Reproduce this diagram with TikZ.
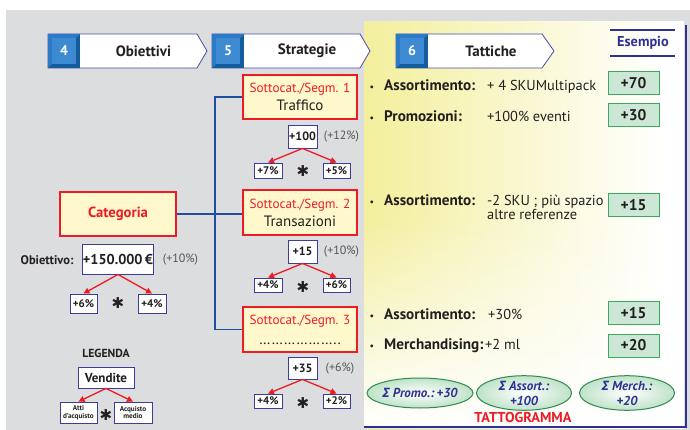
\documentclass[tikz,border=0pt]{standalone}
\usepackage{fontspec}
\setmainfont{PT Sans}
\newfontfamily\sigfont{Open Sans}
\newfontfamily\symfont{DejaVu Sans}
\usetikzlibrary{arrows.meta,fadings,shapes.geometric}

\definecolor{bggray}{HTML}{DCDDDE}
\definecolor{panyel}{HTML}{EAE43A}
\definecolor{panyel2}{HTML}{F2EE96}
\definecolor{segred}{HTML}{ED1C24}
\definecolor{creamy}{HTML}{FFF8CC}
\definecolor{boxblue}{HTML}{3D3D99}
\definecolor{ink}{HTML}{231F20}
\definecolor{pctgray}{HTML}{555555}
\definecolor{linkblue}{HTML}{1F4FA0}
\definecolor{grnline}{HTML}{3BAA5F}
\definecolor{grnfill}{HTML}{CCE7D5}
\definecolor{ellline}{HTML}{2E8B4E}
\definecolor{ellfill}{HTML}{BFE2C8}
\definecolor{sumblue}{HTML}{2E3192}
\definecolor{bevdark}{HTML}{135C9E}
\definecolor{bevmid}{HTML}{2D7BC6}
\definecolor{bevin}{HTML}{3E8AD2}
\definecolor{hdrline}{HTML}{4A4AA6}

\pgfdeclarehorizontalshading{panelshade}{100bp}{color(0bp)=(panyel); color(22bp)=(panyel2); color(72bp)=(white); color(100bp)=(white)}

\newcommand\fs[2]{\fontsize{#1}{#2}\selectfont}

% step tab of the header: #1 left x, #2 body end, #3 tip x, #4 number, #5 title, #6 node name
\newcommand\hdrtab[6]{%
  \draw[hdrline, line width=0.8pt, fill=white] (#1,34) -- (#2,34) -- (#3,51) -- (#2,68) -- (#1,68) -- cycle;
  \fill[bevdark] (#1,34) rectangle ({#1+32},68);
  \fill[bevmid] (#1,34) -- ({#1+32},34) -- ({#1+28},38) -- ({#1+4},38) -- ({#1+4},64) -- (#1,68) -- cycle;
  \fill[bevin] ({#1+4},38) rectangle ({#1+28},64);
  \node[hdrnum] (#6n) at ({#1+16},50.5) {#4};
  \node[hdrtxt] (#6) at ({(#1+32+#3)/2},51) {#5};
}

\tikzset{
  hdrnum/.style={text=white, font=\fs{14}{16}\bfseries, inner sep=0pt},
  hdrtxt/.style={text=ink, font=\fs{15}{17}\bfseries, inner sep=0pt},
  numbox/.style={draw=boxblue, line width=0.9pt, fill=white, inner sep=0pt, text=ink, font=\fs{12}{14}\bfseries},
  pctbox/.style={numbox, minimum width=28pt, minimum height=15pt, font=\fs{11}{12}\bfseries},
  segbox/.style={draw=segred, line width=2pt, fill=creamy, minimum width=114pt, minimum height=44pt, inner sep=0pt, align=center, text=ink},
  grnbox/.style={draw=grnline, line width=1pt, fill=grnfill, minimum width=51pt, minimum height=23pt, inner sep=0pt, font=\fs{15.5}{17}\bfseries, text=ink},
  sumell/.style={ellipse, draw=ellline, line width=1pt, inner sep=0pt, minimum width=95pt, minimum height=30pt,
    inner color=white, outer color=ellfill, font=\fs{13}{15}\bfseries\itshape, text=sumblue, align=center},
  redarrow/.style={draw=segred, line width=1.3pt, -{Triangle[length=6pt,width=6pt]}},
  connector/.style={draw=linkblue, line width=1.2pt},
  pct/.style={text=pctgray, font=\fs{12}{13}, inner sep=0pt},
  ast/.style={text=ink, font=\symfont\fs{15}{15}\bfseries, inner sep=0pt},
  lbl/.style={anchor=base west, inner sep=0pt, text=ink, font=\fs{15.2}{17}\bfseries},
  val/.style={anchor=base west, inner sep=0pt, text=ink, font=\fs{14.4}{14}, align=left},
  bul/.style={anchor=base, inner sep=0pt, text=ink, font=\fs{10}{12}},
}

\begin{document}
\begin{tikzpicture}[x=1pt,y=-1pt]
\useasboundingbox (0,0) rectangle (690,430);
\fill[white] (0,0) rectangle (690,430);
\fill[bggray] (6,10) rectangle (690,430);

% tactics panel
\shade[shading=panelshade] (364,22) rectangle (684,428);
\fill[white, path fading=north] (364,215) rectangle (684,428);
\draw[sumblue, line width=2pt] (685.5,25) -- (685.5,427) -- (364,427);

% "Esempio" tag
\node[text=sumblue, font=\fs{14.3}{16}\bfseries, inner sep=0pt] (esempio) at (643,43) {Esempio};
\draw[sumblue, line width=1.6pt] (610,30) -- (675,30);
\draw[sumblue, line width=1.6pt] (610,56) -- (675,56);

% header tabs
\hdrtab{48}{197}{207}{4}{Obiettivi}{hobj}
\hdrtab{212}{360}{370}{5}{Strategie}{hstr}
\hdrtab{396}{542}{554}{6}{Tattiche}{htat}

% category and objective
\node[segbox, minimum width=116pt, text=segred, font=\fs{14.7}{16}\bfseries] (cat) at (118,214) {Categoria};
\node[text=ink, font=\fs{12.5}{14}\bfseries, inner sep=0pt] (objlbl) at (47,260) {Obiettivo:};
\node[numbox, minimum width=70pt, minimum height=30pt, font=\fs{14.3}{16}\bfseries] (obj) at (118,259) {+150.000\,€};
\node[pct] (objp) at (180.5,260) {(+10\%)};
\node[pctbox, minimum width=27pt, minimum height=19pt] (c1) at (83.5,303.5) {+6\%};
\node[pctbox, minimum width=28pt, minimum height=19pt] (c2) at (152,303.5) {+4\%};
\node[ast] (cast) at (118,303) {✱};
\draw[redarrow] (obj.south) -- (c1.north);
\draw[redarrow] (obj.south) -- (c2.north);

% legend
\node[text=ink, font=\fs{11.7}{13}\bfseries, inner sep=0pt] (leg) at (106,353) {LEGENDA};
\node[numbox, minimum width=56pt, minimum height=21pt, font=\fs{13}{15}\bfseries] (vend) at (106,377.5) {Vendite};
\node[numbox, minimum width=37pt, minimum height=21pt, font=\fs{7.2}{7.7}\bfseries, align=center] (atti) at (78.5,412.5) {Atti\\d'acquisto};
\node[numbox, minimum width=38pt, minimum height=21pt, font=\fs{7.2}{7.7}\bfseries, align=center] (acq) at (133,412.5) {Acquisto\\medio};
\node[ast] (last) at (106,415) {✱};
\draw[redarrow] (vend.south) -- (atti.north);
\draw[redarrow] (vend.south) -- (acq.north);

% sub-categories
\node[segbox, font=\fs{13.2}{18}] (s1) at (300,97) {{\color{segred}Sottocat./Segm. 1}\\{\fs{15}{18}Traffico}};
\node[segbox, minimum height=45pt, font=\fs{13.2}{18}] (s2) at (300,212.5) {{\color{segred}Sottocat./Segm. 2}\\{\fs{15}{18}Transazioni}};
\node[segbox, minimum height=45pt, font=\fs{13.2}{20}] (s3) at (300,329.5) {{\color{segred}Sottocat./Segm. 3}\\{\fs{15}{20}\textellipsis\textellipsis\textellipsis\textellipsis\textellipsis\textellipsis..}};

\coordinate (j) at (215,214);
\draw[connector] (cat.east) -- (j) -- (s2.west |- j);
\draw[connector] (s1.west) -| (j) |- (s3.west);

% segment 1 figures
\node[numbox, minimum width=29pt, minimum height=23pt] (n1) at (302.5,136.5) {+100};
\node[pct] (p1) at (341.5,137) {(+12\%)};
\node[pctbox] (a1) at (268,170.5) {+7\%};
\node[pctbox, minimum width=27pt] (b1) at (336.5,170.5) {+5\%};
\node[ast] (x1) at (303,171.5) {✱};
\draw[redarrow] (n1.south) -- (a1.north);
\draw[redarrow] (n1.south) -- (b1.north);

% segment 2 figures
\node[numbox, minimum width=29pt, minimum height=23pt] (n2) at (302.5,251.5) {+15};
\node[pct] (p2) at (341.5,252) {(+10\%)};
\node[pctbox, minimum height=14pt] (a2) at (268,285) {+4\%};
\node[pctbox, minimum width=27pt, minimum height=14pt] (b2) at (336.5,285) {+6\%};
\node[ast] (x2) at (303,287) {✱};
\draw[redarrow] (n2.south) -- (a2.north);
\draw[redarrow] (n2.south) -- (b2.north);

% segment 3 figures
\node[numbox, minimum width=29pt, minimum height=22pt] (n3) at (302.5,368) {+35};
\node[pct] (p3) at (340,369) {(+6\%)};
\node[pctbox, minimum height=14pt] (a3) at (268,401) {+4\%};
\node[pctbox, minimum width=27pt, minimum height=14pt] (b3) at (336.5,401) {+2\%};
\node[ast] (x3) at (303,403) {✱};
\draw[redarrow] (n3.south) -- (a3.north);
\draw[redarrow] (n3.south) -- (b3.north);

% tactics (text set on common baselines)
\node[bul] (d1) at (372,90.5) {•};
\node[lbl] (l1) at (384,90.5) {Assortimento:};
\node[val] (v1) at (487,90.5) {+ 4 SKUMultipack};
\node[grnbox] (g1) at (633.5,83.5) {+70};

\node[bul] (d2) at (372,121.5) {•};
\node[lbl] (l2) at (384,121.5) {Promozioni:};
\node[val] (v2) at (487,121.5) {+100\% eventi};
\node[grnbox] (g2) at (633.5,115.5) {+30};

\node[bul] (d3) at (372,205.5) {•};
\node[lbl] (l3) at (384,205.5) {Assortimento:};
% two-line value: its base anchor sits on the last line
\node[val] (v3) at (487,219.5) {-2 SKU ; più spazio\\altre referenze};
\node[grnbox] (g3) at (633.5,205.5) {+15};

\node[bul] (d4) at (372,319.5) {•};
\node[lbl] (l4) at (384,319.5) {Assortimento:};
\node[val] (v4) at (488,319.5) {+30\%};
\node[grnbox] (g4) at (633.5,313) {+15};

\node[bul] (d5) at (372,349.5) {•};
\node[lbl] (l5) at (384,349.5) {Merchandising:};
\node[val] (v5) at (485,349.5) {+2 ml};
\node[grnbox] (g5) at (633.5,345.5) {+20};

% tattogramma totals
\node[sumell] (e1) at (420,393) {{\sigfont\bfseries\itshape Σ} Promo.:\,+30};
\node[sumell] (e2) at (524,393) {{\sigfont\bfseries\itshape Σ} Assort.:\\+100};
\node[sumell] (e3) at (627,393) {{\sigfont\bfseries\itshape Σ} Merch.:\\+20};
\node[text=segred, font=\fs{14.3}{16}\bfseries, inner sep=0pt] (tatt) at (523,417) {TATTOGRAMMA};
\end{tikzpicture}
\end{document}
